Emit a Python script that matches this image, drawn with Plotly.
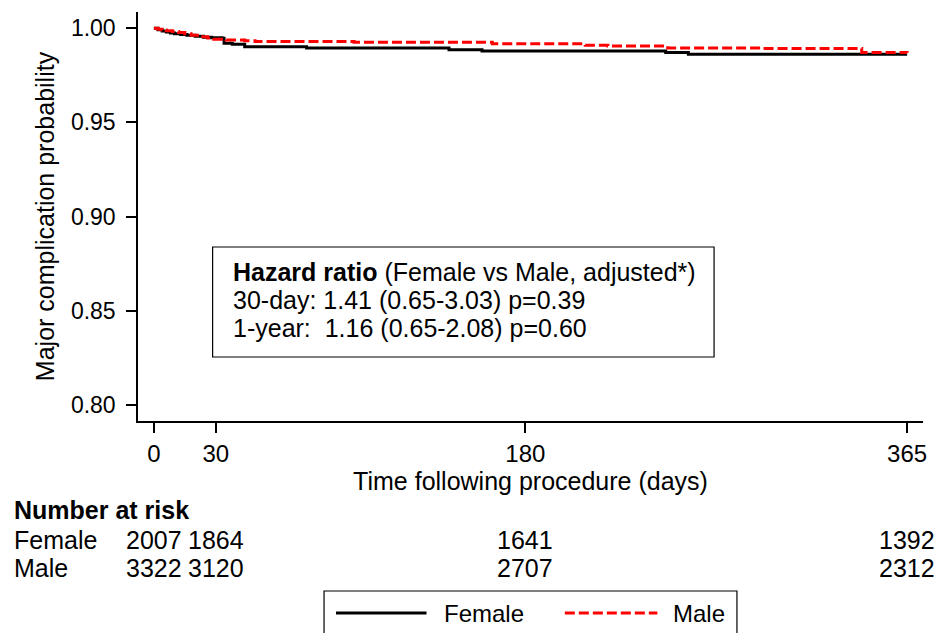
import plotly.graph_objects as go

# ---- data ----
female_days = [0, 2, 4, 6, 8, 10, 13, 16, 20, 24, 28, 33, 34, 38, 44, 74, 143, 159, 248, 259, 365]
female_surv = [1.000, 0.9992, 0.9985, 0.9980, 0.9975, 0.9971, 0.9967, 0.9962, 0.9957, 0.9952, 0.9949,
               0.9946, 0.9920, 0.9915, 0.9902, 0.9895, 0.9886, 0.9879, 0.9871, 0.9862, 0.9862]
male_days = [0, 2, 4, 6, 9, 12, 15, 18, 22, 26, 29, 35, 44, 49, 97, 164, 209, 220, 249, 294, 343, 365]
male_surv = [1.000, 0.9995, 0.9991, 0.9987, 0.9982, 0.9977, 0.9970, 0.9963, 0.9955, 0.9948, 0.9942,
             0.9937, 0.9934, 0.9929, 0.9926, 0.9917, 0.9910, 0.9905, 0.9895, 0.9892, 0.9871, 0.9870]

x_ticks = [0, 30, 180, 365]
y_ticks = [0.80, 0.85, 0.90, 0.95, 1.00]
y_tick_labels = ["0.80", "0.85", "0.90", "0.95", "1.00"]
risk_days = [0, 30, 180, 365]
risk_female = [2007, 1864, 1641, 1392]
risk_male = [3322, 3120, 2707, 2312]

hr_title = "Hazard ratio"
hr_sub = " (Female vs Male, adjusted*)"
hr_lines = ["30-day: 1.41 (0.65-3.03) p=0.39", "1-year:  1.16 (0.65-2.08) p=0.60"]

# ---- layout geometry ----
W, H = 938, 633
L, R, T, B = 138, 927, 12, 421
PW, PH = R - L, B - T
FONT = "Liberation Sans, Arial, sans-serif"
FS = 25


def px(xp):
    return (xp - L) / PW


def py(yp):
    return (B - yp) / PH


fig = go.Figure()
fig.add_trace(go.Scatter(x=female_days, y=female_surv, mode="lines", name="Female",
                         line=dict(color="black", width=3, shape="hv"), showlegend=False))
fig.add_trace(go.Scatter(x=male_days, y=male_surv, mode="lines", name="Male",
                         line=dict(color="#ff0000", width=3, shape="hv", dash="10px,4px"),
                         showlegend=False))

fig.update_layout(
    width=W, height=H,
    margin=dict(l=L, r=W - R, t=T, b=H - B, pad=0),
    paper_bgcolor="white", plot_bgcolor="white",
    font=dict(family=FONT, size=FS, color="black"),
    xaxis=dict(range=[-7.7, 372.7], tickvals=x_ticks, ticks="outside", ticklen=10, tickwidth=1.5,
               tickcolor="black", showline=True, linecolor="black", linewidth=1.5,
               showgrid=False, zeroline=False, ticklabelstandoff=0,
               tickfont=dict(size=24),
               title=dict(text="Time following procedure (days)", standoff=3,
                          font=dict(size=FS))),
    yaxis=dict(range=[0.7915, 1.0086], tickvals=y_ticks, ticktext=y_tick_labels, ticks="outside",
               ticklen=10, tickwidth=1.5, tickcolor="black", showline=True, linecolor="black",
               linewidth=1.5, showgrid=False, zeroline=False, ticklabelstandoff=6,
               tickfont=dict(size=23),
               title=dict(text="Major complication probability", standoff=9,
                          font=dict(size=FS))),
)

shapes = []
anns = []

# hazard ratio box
shapes.append(dict(type="rect", xref="paper", yref="paper", x0=px(213), x1=px(717),
                   y0=py(357), y1=py(247), line=dict(color="black", width=1.2),
                   fillcolor="rgba(0,0,0,0)"))
anns.append(dict(xref="paper", yref="paper", x=px(231), y=py(272), xanchor="left", yanchor="middle",
                 text="<b>" + hr_title + "</b>" + hr_sub, showarrow=False, font=dict(size=FS)))
for i, t in enumerate(hr_lines):
    anns.append(dict(xref="paper", yref="paper", x=px(231), y=py(300 + 28 * i), xanchor="left",
                     yanchor="middle", text=t, showarrow=False, font=dict(size=FS)))

# number at risk table
anns.append(dict(xref="paper", yref="paper", x=px(11), y=py(510), xanchor="left", yanchor="middle",
                 text="<b>Number at risk</b>", showarrow=False, font=dict(size=FS)))
for label, vals, yy in [("Female", risk_female, 540), ("Male", risk_male, 568)]:
    anns.append(dict(xref="paper", yref="paper", x=px(11), y=py(yy), xanchor="left",
                     yanchor="middle", text=label, showarrow=False, font=dict(size=FS)))
    for d, v in zip(risk_days, vals):
        anns.append(dict(xref="x", yref="paper", x=d, y=py(yy), xanchor="center", yanchor="middle",
                         text=str(v), showarrow=False, font=dict(size=FS)))

# legend (drawn manually, box runs off bottom edge as in reference)
shapes.append(dict(type="rect", xref="paper", yref="paper", x0=px(325), x1=px(740),
                   y0=py(660), y1=py(591), line=dict(color="black", width=1.2)))
shapes.append(dict(type="line", xref="paper", yref="paper", x0=px(337), x1=px(428),
                   y0=py(613), y1=py(613), line=dict(color="black", width=3)))
shapes.append(dict(type="line", xref="paper", yref="paper", x0=px(567), x1=px(660),
                   y0=py(613), y1=py(613), line=dict(color="#ff0000", width=3, dash="10px,4px")))
anns.append(dict(xref="paper", yref="paper", x=px(444), y=py(613), xanchor="left", yanchor="middle",
                 text="Female", showarrow=False, font=dict(size=24)))
anns.append(dict(xref="paper", yref="paper", x=px(674), y=py(613), xanchor="left", yanchor="middle",
                 text="Male", showarrow=False, font=dict(size=24)))

fig.update_layout(shapes=shapes, annotations=anns)
fig.write_html("out.html")
